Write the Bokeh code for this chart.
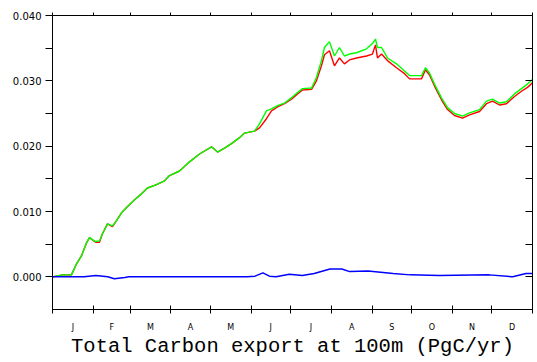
from bokeh.plotting import figure
from bokeh.models import Range1d, LinearAxis, FixedTicker, NumeralTickFormatter
from bokeh.embed import file_html
from bokeh.resources import INLINE

# ---- data (day of year, PgC/yr) ----
days = [0, 7.6, 14.4, 18.3, 22.0, 25.9, 28.1, 32.7, 35.7, 38.0, 41.8, 45.6, 48.7, 52.5,
        56.3, 62.4, 67.7, 72.2, 79.1, 85.2, 89.0, 96.6, 104.2, 111.8, 120.9, 125.5,
        130.8, 136.9, 142.2, 146.0, 153.6, 157.4, 162.7, 166.5, 171.1, 176.4, 181.7,
        186.3, 190.1, 197.0, 200.7, 204.5, 206.8, 210.6, 214.4, 218.2, 222.0, 225.8,
        231.2, 238.8, 243.3, 245.6, 247.1, 250.2, 254.7, 261.6, 267.7, 271.5, 280.6,
        283.6, 286.7, 290.5, 295.8, 300.4, 305.7, 311.8, 317.1, 324.7, 330.0, 334.6,
        339.9, 345.2, 351.3, 356.6, 361.2, 365.0]

green_vals = [0.0000, 0.0003, 0.0003, 0.0020, 0.0032, 0.0052, 0.0060, 0.0054, 0.0055,
              0.0066, 0.0081, 0.0078, 0.0086, 0.0098, 0.0106, 0.0118, 0.0127, 0.0136,
              0.0141, 0.0147, 0.0155, 0.0162, 0.0176, 0.0188, 0.0199, 0.0191, 0.0197,
              0.0205, 0.0213, 0.0220, 0.0223, 0.0234, 0.0254, 0.0257, 0.0262, 0.0266,
              0.0274, 0.0282, 0.0288, 0.0289, 0.0305, 0.0331, 0.0351, 0.0360, 0.0338,
              0.0351, 0.0338, 0.0341, 0.0343, 0.0349, 0.0357, 0.0364, 0.0351, 0.0351,
              0.0335, 0.0326, 0.0315, 0.0308, 0.0308, 0.0320, 0.0312, 0.0295, 0.0274,
              0.0259, 0.0250, 0.0246, 0.0251, 0.0256, 0.0269, 0.0272, 0.0266, 0.0268,
              0.0280, 0.0288, 0.0295, 0.0302]

red_vals = [0.0000, 0.0003, 0.0003, 0.0020, 0.0032, 0.0052, 0.0060, 0.0053, 0.0053,
            0.0066, 0.0081, 0.0077, 0.0086, 0.0098, 0.0106, 0.0118, 0.0127, 0.0136,
            0.0141, 0.0147, 0.0155, 0.0162, 0.0176, 0.0188, 0.0199, 0.0191, 0.0197,
            0.0205, 0.0213, 0.0220, 0.0223, 0.0228, 0.0242, 0.0254, 0.0260, 0.0265,
            0.0272, 0.0280, 0.0286, 0.0287, 0.0300, 0.0323, 0.0340, 0.0346, 0.0323,
            0.0335, 0.0326, 0.0332, 0.0335, 0.0338, 0.0341, 0.0355, 0.0335, 0.0341,
            0.0331, 0.0320, 0.0311, 0.0303, 0.0303, 0.0317, 0.0309, 0.0292, 0.0271,
            0.0256, 0.0247, 0.0243, 0.0248, 0.0253, 0.0265, 0.0269, 0.0263, 0.0265,
            0.0276, 0.0284, 0.0290, 0.0297]

blue_days = [0, 24, 33, 42, 47, 55, 58, 148, 154, 160, 165, 170, 180, 190, 199, 211,
             220, 226, 240, 259, 272, 294, 332, 350, 360, 365]
blue_vals = [0.0, 0.0, 0.0002, 0.0, -0.0003, -0.0001, 0.0, 0.0, 0.0001, 0.0006, 0.0001,
             0.0, 0.0004, 0.0002, 0.0005, 0.0012, 0.0012, 0.0008, 0.0009, 0.0005, 0.0003,
             0.0002, 0.0003, 0.0, 0.0005, 0.0005]

month_edges = [0, 31, 59, 90, 120, 151, 181, 212, 243, 273, 304, 334, 365]
month_mids = [15.5, 45, 74.5, 105, 135.5, 166, 196.5, 227.5, 258, 288.5, 319, 349.5]
month_labels = ["J", "F", "M", "A", "M", "J", "J", "A", "S", "O", "N", "D"]
y_major = [0.0, 0.01, 0.02, 0.03, 0.04]
y_minor = [0.005, 0.015, 0.025, 0.035]

title_text = "Total Carbon export at 100m (PgC/yr)"

p = figure(width=537, height=362, output_backend="svg", toolbar_location=None,
           x_range=Range1d(0, 365), y_range=Range1d(-0.005, 0.040),
           x_axis_location=None, y_axis_location=None,
           min_border_left=52, min_border_right=5, min_border_top=15,
           min_border_bottom=53)
p.grid.visible = False
p.outline_line_color = None
p.background_fill_color = "white"
p.border_fill_color = "white"

lbl_font = "DejaVu Sans"

# left axis
yl = LinearAxis(ticker=FixedTicker(ticks=y_major, minor_ticks=y_minor),
                formatter=NumeralTickFormatter(format="0.000"))
yl.major_tick_in = 0
yl.major_tick_out = 7
yl.minor_tick_in = 0
yl.minor_tick_out = 7
yl.major_label_standoff = 4
yl.major_label_text_font = lbl_font
yl.major_label_text_font_size = "10px"
yl.major_label_text_color = "black"
yl.axis_line_color = "black"
yl.major_tick_line_color = "black"
yl.minor_tick_line_color = "black"
p.add_layout(yl, "left")

# right axis (ticks only)
yr = LinearAxis(ticker=FixedTicker(ticks=y_major, minor_ticks=y_minor))
yr.major_tick_in = 7
yr.major_tick_out = 0
yr.minor_tick_in = 7
yr.minor_tick_out = 0
yr.major_label_text_color = None
yr.major_label_standoff = 0
yr.axis_line_color = "black"
yr.major_tick_line_color = "black"
yr.minor_tick_line_color = "black"
p.add_layout(yr, "right")

# top axis (ticks only)
xt = LinearAxis(ticker=FixedTicker(ticks=month_edges, minor_ticks=[]))
xt.major_tick_in = 0
xt.major_tick_out = 3
xt.major_label_text_color = None
xt.major_label_standoff = 0
xt.axis_line_color = "black"
xt.major_tick_line_color = "black"
p.add_layout(xt, "above")

# bottom axis
xb = LinearAxis(ticker=FixedTicker(ticks=month_mids, minor_ticks=month_edges))
xb.major_label_overrides = {m: l for m, l in zip(month_mids, month_labels)}
xb.major_tick_in = 0
xb.major_tick_out = 0
xb.minor_tick_in = 4
xb.minor_tick_out = 4
xb.major_label_standoff = 9
xb.major_label_text_font = lbl_font
xb.major_label_text_font_size = "8px"
xb.major_label_text_color = "black"
xb.axis_line_color = "black"
xb.minor_tick_line_color = "black"
xb.axis_label = title_text
xb.axis_label_text_font = "Liberation Mono"
xb.axis_label_text_font_style = "normal"
xb.axis_label_text_font_size = "20.5px"
xb.axis_label_text_color = "black"
xb.axis_label_standoff = 0
p.add_layout(xb, "below")

p.line(days, red_vals, line_color="#ff0000", line_width=1.4)
p.line(days, green_vals, line_color="#00ff00", line_width=1.4)
p.line(blue_days, blue_vals, line_color="#0000ff", line_width=1.5)

open("out.html", "w").write(file_html(p, INLINE))
